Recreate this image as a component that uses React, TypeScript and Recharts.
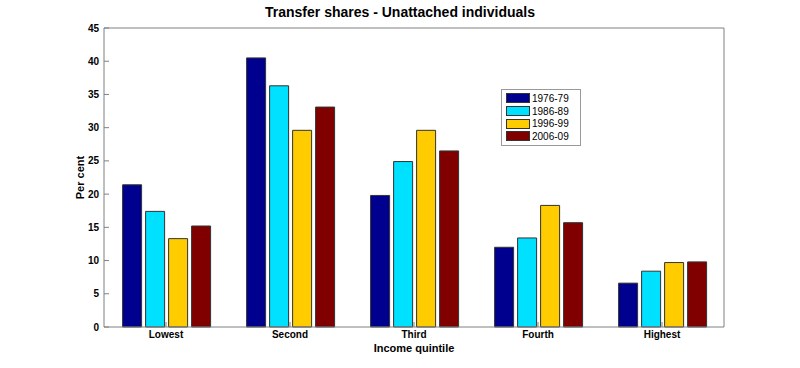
import React from 'react';
import { BarChart, Bar, XAxis, YAxis, Legend } from 'recharts';

const quintiles = ['Lowest', 'Second', 'Third', 'Fourth', 'Highest'];
const s1976 = [21.4, 40.5, 19.8, 12.0, 6.6];
const s1986 = [17.4, 36.3, 24.9, 13.4, 8.4];
const s1996 = [13.3, 29.6, 29.6, 18.3, 9.7];
const s2006 = [15.2, 33.1, 26.5, 15.7, 9.8];
const yTicks = [0, 5, 10, 15, 20, 25, 30, 35, 40, 45];

const series = [
  { key: 'p1976', name: '1976-79', color: '#00008F' },
  { key: 'p1986', name: '1986-89', color: '#00E0FF' },
  { key: 'p1996', name: '1996-99', color: '#FFCC00' },
  { key: 'p2006', name: '2006-09', color: '#800000' },
];

const data = quintiles.map((q, i) => ({
  quintile: q,
  p1976: s1976[i],
  p1986: s1986[i],
  p1996: s1996[i],
  p2006: s2006[i],
}));

const font = 'Arial, "Liberation Sans", Helvetica, sans-serif';
const axisGray = '#808080';

const LegendBox = (props: any) => {
  const items = props.payload || [];
  return (
    <div
      style={{
        border: '1px solid #999',
        background: '#fff',
        padding: '2px 4px 2px 4px',
        fontFamily: font,
        fontSize: 10,
        color: '#000',
        width: 70,
      }}
    >
      {items.map((it: any) => (
        <div key={it.value} style={{ display: 'flex', alignItems: 'center', height: 12.7 }}>
          <span
            style={{
              display: 'inline-block',
              width: 22,
              height: 8,
              background: it.color,
              border: '1px solid #333',
              marginRight: 2,
            }}
          />
          <span>{it.value}</span>
        </div>
      ))}
    </div>
  );
};

// rotated y-axis title
const PerCentLabel = (props: any) => {
  const vb = props.viewBox || {};
  const cx = vb.x + 84;
  const cy = vb.y + vb.height / 2;
  return (
    <text
      x={cx}
      y={cy}
      transform={`rotate(-90, ${cx}, ${cy})`}
      textAnchor="middle"
      fontFamily={font}
      fontSize={11}
      fontWeight="bold"
      fill="#000"
    >
      Per cent
    </text>
  );
};

export default function App() {
  return (
    <div style={{ position: 'absolute', left: 0, top: 0, width: 800, height: 368, background: '#fff' }}>
      <div
        style={{
          position: 'absolute',
          left: 0,
          top: 4,
          width: 800,
          textAlign: 'center',
          fontFamily: font,
          fontWeight: 'bold',
          fontSize: 14,
          color: '#000',
          zIndex: 2,
        }}
      >
        Transfer shares - Unattached individuals
      </div>
      <BarChart
        width={800}
        height={368}
        data={data}
        margin={{ top: 27, right: 75, left: 0, bottom: 0 }}
        barCategoryGap="15%"
        barGap={4}
      >
        <XAxis
          dataKey="quintile"
          height={41}
          stroke={axisGray}
          tickSize={-5}
          tickMargin={9}
          tick={{ fill: '#000', fontFamily: font, fontSize: 10, fontWeight: 'bold' }}
          label={{
            value: 'Income quintile',
            position: 'insideBottom',
            offset: 16,
            fill: '#000',
            fontFamily: font,
            fontSize: 11,
            fontWeight: 'bold',
          }}
        />
        <XAxis
          xAxisId="top"
          dataKey="quintile"
          orientation="top"
          height={1}
          stroke={axisGray}
          tickSize={-5}
          tick={false}
        />
        <YAxis
          width={104}
          domain={[0, 45]}
          ticks={yTicks}
          interval={0}
          stroke={axisGray}
          tickSize={-5}
          tickMargin={10}
          tick={{ fill: '#000', fontFamily: font, fontSize: 10, fontWeight: 'bold' }}
          label={{ content: PerCentLabel }}
        />
        <YAxis
          yAxisId="right"
          orientation="right"
          width={1}
          domain={[0, 45]}
          ticks={yTicks}
          interval={0}
          stroke={axisGray}
          tickSize={-5}
          tick={false}
        />
        <Legend
          layout="vertical"
          align="center"
          verticalAlign="middle"
          content={LegendBox}
          wrapperStyle={{ position: 'absolute', left: 501, top: 89, width: 82 }}
        />
        {series.map((s) => (
          <Bar
            key={s.key}
            dataKey={s.key}
            name={s.name}
            fill={s.color}
            stroke="#333"
            strokeWidth={1}
            isAnimationActive={false}
          />
        ))}
      </BarChart>
    </div>
  );
}
